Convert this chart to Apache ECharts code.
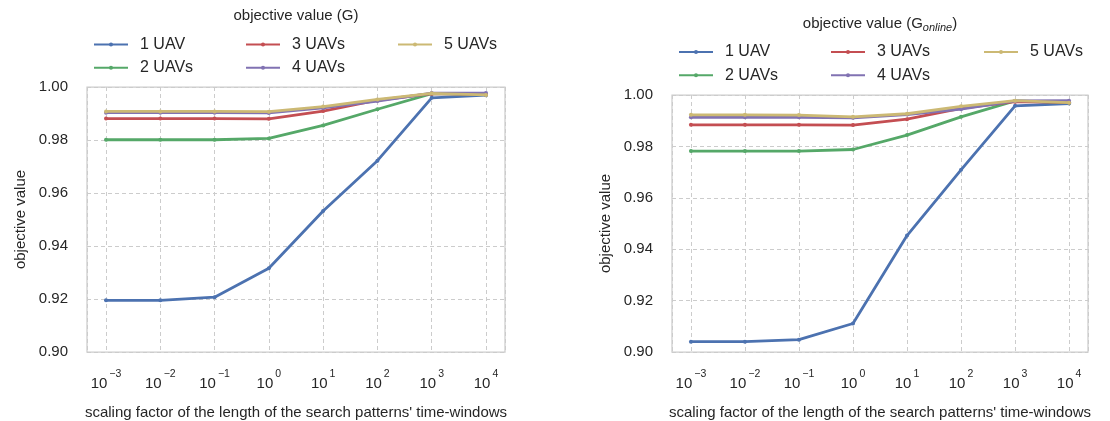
<!DOCTYPE html>
<html>
<head>
<meta charset="utf-8">
<script src="https://cdn.jsdelivr.net/npm/echarts@6/dist/echarts.min.js"></script>
<style>
  html, body { margin: 0; padding: 0; background: #ffffff; }
  #chart { width: 1110px; height: 421px; }
</style>
</head>
<body>
<div id="chart"></div>
<script>
// ---- data ----
const exponents = [-3, -2, -1, 0, 1, 2, 3, 4];
const seriesNames = ['1 UAV', '2 UAVs', '3 UAVs', '4 UAVs', '5 UAVs'];
const colors = ['#4C72B0', '#55A868', '#C44E52', '#8172B2', '#CCB974'];

// objective value (G)
const g1 = [0.9195, 0.9195, 0.9207, 0.9316, 0.9532, 0.9722, 0.9959, 0.9969];
const g2 = [0.9801, 0.9801, 0.9801, 0.9806, 0.9855, 0.9916, 0.9975, 0.9972];
const g3 = [0.9881, 0.9881, 0.9881, 0.9880, 0.9909, 0.9950, 0.9975, 0.9972];
const g4 = [0.9903, 0.9903, 0.9903, 0.9902, 0.9921, 0.9947, 0.9977, 0.9977];
const g5 = [0.9908, 0.9908, 0.9908, 0.9907, 0.9926, 0.9953, 0.9976, 0.9970];

// objective value (G_online)
const o1 = [0.9040, 0.9040, 0.9048, 0.9111, 0.9453, 0.9709, 0.9958, 0.9967];
const o2 = [0.9782, 0.9782, 0.9782, 0.9788, 0.9844, 0.9915, 0.9977, 0.9970];
const o3 = [0.9884, 0.9884, 0.9884, 0.9883, 0.9906, 0.9948, 0.9974, 0.9971];
const o4 = [0.9913, 0.9913, 0.9913, 0.9911, 0.9924, 0.9945, 0.9977, 0.9978];
const o5 = [0.9923, 0.9923, 0.9922, 0.9915, 0.9927, 0.9956, 0.9978, 0.9970];

const yTicks = { min: 0.90, max: 1.00, interval: 0.02 };
const xName = "scaling factor of the length of the search patterns' time-windows";
const yName = 'objective value';

// ---- build ----
const FONT = '"Liberation Sans", Arial, sans-serif';
const TXT = '#262626';
const GRIDC = '#cccccc';

const chart = echarts.init(document.getElementById('chart'), null, { renderer: 'canvas' });

const grids = [
  { left: 87, top: 87, width: 418, height: 265 },
  { left: 672, top: 95, width: 416, height: 257 }
];

function xAxisFor(i) {
  return {
    type: 'value', gridIndex: i, min: -3.35, max: 4.35, splitNumber: 8,
    name: xName, nameLocation: 'middle', nameGap: 53,
    nameTextStyle: { fontFamily: FONT, fontSize: 15, color: TXT },
    axisLine: { show: false }, axisTick: { show: false },
    splitLine: { show: true, lineStyle: { color: GRIDC, width: 1, type: [4, 3] } },
    axisLabel: {
      margin: 17, showMinLabel: false, showMaxLabel: false,
      formatter: function (v) {
        if (Math.abs(v - Math.round(v)) > 1e-9) return '';
        const e = Math.round(v);
        const s = e < 0 ? '\u2212' + (-e) : String(e);
        return '{b|10}{s|' + s + '}';
      },
      rich: {
        b: { fontFamily: FONT, fontSize: 15, color: TXT, lineHeight: 22, verticalAlign: 'bottom' },
        s: { fontFamily: FONT, fontSize: 10.5, color: TXT, lineHeight: 10, verticalAlign: 'top', padding: [0, 0, 0, 2] }
      }
    }
  };
}
function yAxisFor(i) {
  return {
    type: 'value', gridIndex: i, min: yTicks.min, max: yTicks.max, interval: yTicks.interval,
    name: yName, nameLocation: 'middle', nameGap: 59,
    nameTextStyle: { fontFamily: FONT, fontSize: 15, color: TXT },
    axisLine: { show: false }, axisTick: { show: false },
    splitLine: { show: true, lineStyle: { color: GRIDC, width: 1, type: [4, 3] } },
    axisLabel: {
      margin: 19, fontFamily: FONT, fontSize: 15, color: TXT,
      formatter: function (v) { return v.toFixed(2); }
    }
  };
}

const dataSets = [[g1, g2, g3, g4, g5], [o1, o2, o3, o4, o5]];
const series = [];
dataSets.forEach(function (set, gi) {
  set.forEach(function (vals, si) {
    series.push({
      name: seriesNames[si], type: 'line', xAxisIndex: gi, yAxisIndex: gi,
      data: exponents.map(function (e, k) { return [e, vals[k]]; }),
      symbol: 'circle', symbolSize: 4, showSymbol: true,
      lineStyle: { color: colors[si], width: 2.8 },
      itemStyle: { color: colors[si] },
      emphasis: { disabled: true },
      animation: false, z: 2 + si
    });
  });
});

const legendCols = [['1 UAV', '2 UAVs'], ['3 UAVs', '4 UAVs'], ['5 UAVs']];
const legendPos = [
  { xs: [93, 245, 397], top: 35.5 },
  { xs: [678, 830, 983], top: 43 }
];
const legends = [];
legendPos.forEach(function (p) {
  legendCols.forEach(function (col, ci) {
    legends.push({
      data: col, orient: 'vertical', left: p.xs[ci], top: p.top,
      padding: 0, itemGap: 5.3, itemWidth: 34, itemHeight: 5,
      selectedMode: false,
      textStyle: { fontFamily: FONT, fontSize: 16, color: TXT, lineHeight: 18, padding: [0, 0, 0, 7] }
    });
  });
});

chart.setOption({
  backgroundColor: '#ffffff',
  animation: false,
  title: [
    {
      text: 'objective value (G)', left: 296, top: 8, textAlign: 'center', padding: 0,
      textStyle: { fontFamily: FONT, fontSize: 15, fontWeight: 'normal', color: TXT }
    },
    {
      text: '{a|objective value (G}{sub|online}{a|)}', left: 880, top: 16, textAlign: 'center', padding: 0,
      textStyle: {
        fontFamily: FONT, fontSize: 15, fontWeight: 'normal', color: TXT,
        rich: {
          a: { fontFamily: FONT, fontSize: 15, color: TXT, lineHeight: 17, verticalAlign: 'top' },
          sub: { fontFamily: FONT, fontSize: 11, fontStyle: 'italic', color: TXT, lineHeight: 9, verticalAlign: 'bottom' }
        }
      }
    }
  ],
  legend: legends,
  grid: grids.map(function (g) {
    return Object.assign({ show: true, borderColor: GRIDC, borderWidth: 1.25, backgroundColor: '#ffffff', containLabel: false, outerBoundsMode: 'none' }, g);
  }),
  xAxis: [xAxisFor(0), xAxisFor(1)],
  yAxis: [yAxisFor(0), yAxisFor(1)],
  series: series
});
</script>
</body>
</html>
